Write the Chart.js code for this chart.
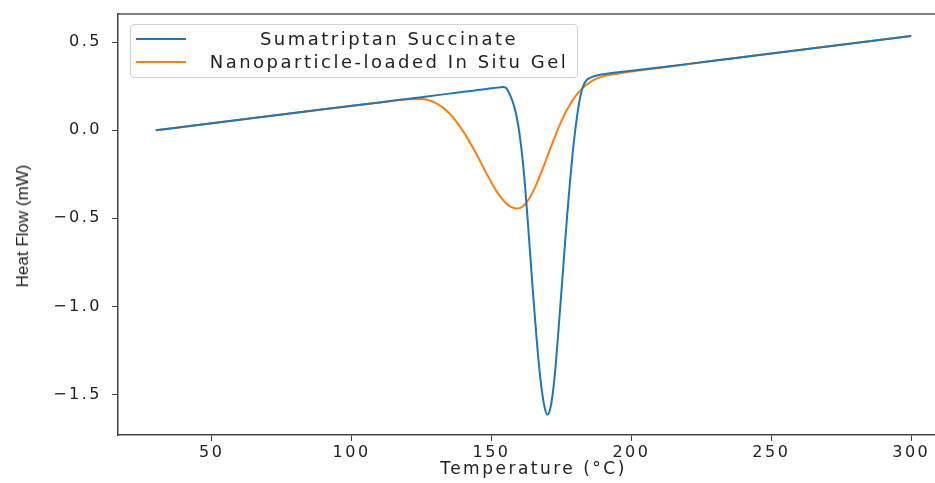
<!DOCTYPE html>
<html>
<head>
<meta charset="utf-8">
<script src="https://cdn.jsdelivr.net/npm/chart.js@4.4.1/dist/chart.umd.min.js"></script>
<style>
  html, body { margin: 0; padding: 0; background: #fff; overflow: hidden; }
  #wrap { position: relative; width: 960px; height: 483px; }
  #legend {
    position: absolute; left: 130px; top: 24px; width: 446px; height: 52px;
    border: 1px solid #d4d4d4; border-radius: 4px; background: rgba(255,255,255,0.85);
    font-family: "DejaVu Sans", sans-serif; font-size: 18px; letter-spacing: 2.5px; color: #222;
  }
  .row { position: absolute; left: 0; width: 100%; height: 23px; }
  .swatch { position: absolute; left: 5px; width: 50px; height: 2px; top: 11px; }
  .label { position: absolute; left: 70px; width: 376px; text-align: center; line-height: 23px; white-space: nowrap; }
  #ytitle {
    position: absolute; left: 23px; top: 226px; transform: translate(-50%, -50%) rotate(-90deg);
    font-family: "Liberation Sans", sans-serif; font-size: 17px; color: #222; white-space: nowrap;
  }
</style>
</head>
<body>
<div id="wrap">
  <canvas id="dsc" width="960" height="483"></canvas>
  <div id="legend"></div>
  <div id="ytitle">Heat Flow (mW)</div>
</div>
<script>
// temperature points (°C) and heat flow (mW)
const temps = [30, 50, 70, 90, 110, 120, 125, 130, 135, 140, 144, 146, 148, 150, 152, 154,
  155, 156, 157, 158, 159, 160, 161, 162, 163, 164, 165, 166, 167, 168, 169,
  170, 171, 172, 173, 174, 175, 176, 177, 178, 179, 180, 181, 182, 183, 184,
  186, 188, 190, 193, 196, 200, 210, 230, 250, 270, 300];

const sumatriptan = [0.000, 0.040, 0.079, 0.119, 0.158, 0.178, 0.188, 0.198, 0.208, 0.218, 0.226, 0.230, 0.234, 0.238, 0.242, 0.245,
  0.243, 0.222, 0.185, 0.140, 0.075, -0.020, -0.150, -0.320, -0.525, -0.745, -0.960, -1.160, -1.340, -1.480, -1.575,
  -1.615, -1.580, -1.480, -1.320, -1.120, -0.910, -0.700, -0.490, -0.300, -0.130, 0.010, 0.125, 0.210, 0.260, 0.285,
  0.303, 0.312, 0.318, 0.325, 0.331, 0.338, 0.356, 0.396, 0.436, 0.475, 0.535];

const insituGel = [0.000, 0.040, 0.079, 0.119, 0.158, 0.176, 0.178, 0.155, 0.095, -0.009, -0.118, -0.178, -0.239, -0.298, -0.351, -0.394,
  -0.411, -0.425, -0.435, -0.441, -0.444, -0.442, -0.434, -0.419, -0.399, -0.373, -0.343, -0.309, -0.271, -0.231, -0.190,
  -0.147, -0.105, -0.063, -0.023, 0.016, 0.052, 0.086, 0.117, 0.145, 0.171, 0.193, 0.213, 0.231, 0.246, 0.259,
  0.280, 0.296, 0.307, 0.316, 0.324, 0.333, 0.354, 0.396, 0.436, 0.475, 0.535];

const seriesNames = ['Sumatriptan Succinate', 'Nanoparticle-loaded In Situ Gel'];
const seriesColors = ['#1f77b4', '#ff7f0e'];

const xTicks = [50, 100, 150, 200, 250, 300];
const yTicks = [-1.5, -1.0, -0.5, 0.0, 0.5];

const toPoints = vals => temps.map((t, i) => ({ x: t, y: vals[i] }));

// matplotlib-ish wide text
const spacing = {
  id: 'spacing',
  beforeUpdate(chart) { chart.ctx.letterSpacing = '2.5px'; },
  beforeDraw(chart) { chart.ctx.letterSpacing = '2.5px'; }
};

// top spine
const frame = {
  id: 'frame',
  afterDraw(chart) {
    const { ctx, chartArea } = chart;
    ctx.save();
    ctx.strokeStyle = '#555';
    ctx.lineWidth = 1.5;
    ctx.beginPath();
    ctx.moveTo(chartArea.left, chartArea.top);
    ctx.lineTo(chartArea.right, chartArea.top);
    ctx.stroke();
    ctx.restore();
  }
};

const tickFont = { family: 'DejaVu Sans', size: 16 };

new Chart(document.getElementById('dsc').getContext('2d'), {
  type: 'line',
  data: {
    datasets: [sumatriptan, insituGel].map((vals, i) => ({
      label: seriesNames[i],
      data: toPoints(vals),
      borderColor: seriesColors[i],
      backgroundColor: seriesColors[i],
      borderWidth: 2,
      pointRadius: 0,
      cubicInterpolationMode: 'monotone',
      fill: false
    }))
  },
  options: {
    responsive: false,
    animation: false,
    layout: { padding: { top: 14, right: 11, left: 0, bottom: 0 } },
    plugins: {
      legend: { display: false },
      tooltip: { enabled: false }
    },
    scales: {
      x: {
        type: 'linear',
        min: 16.5,
        max: 313.5,
        afterBuildTicks: s => { s.ticks = xTicks.map(v => ({ value: v })); },
        afterFit: s => { s.height = 48; s.paddingLeft = 0; s.paddingRight = 0; },
        grid: { drawOnChartArea: false, tickLength: 6, color: '#444' },
        border: { display: true, color: '#444', width: 1.5 },
        ticks: { font: tickFont, color: '#222', padding: 2, maxRotation: 0,
          callback: v => String(v) },
        title: { display: true, text: 'Temperature (°C)', color: '#222',
          font: { family: 'DejaVu Sans', size: 17 }, padding: { top: 0, bottom: 3 } }
      },
      y: {
        min: -1.73,
        max: 0.66,
        afterBuildTicks: s => { s.ticks = yTicks.map(v => ({ value: v })); },
        afterFit: s => { s.width = 118; s.paddingTop = 0; s.paddingBottom = 0; },
        grid: { drawOnChartArea: false, tickLength: 6, color: '#444' },
        border: { display: true, color: '#444', width: 1.5 },
        ticks: { font: tickFont, color: '#222', padding: 10,
          callback: v => (v < 0 ? '\u2212' : '') + Math.abs(v).toFixed(1) }
      }
    }
  },
  plugins: [spacing, frame]
});

// legend box drawn as html, from the same series names/colours
const legend = document.getElementById('legend');
seriesNames.forEach((name, i) => {
  const row = document.createElement('div');
  row.className = 'row';
  row.style.top = (2 + i * 23) + 'px';
  row.innerHTML = '<div class="swatch" style="background:' + seriesColors[i] + '"></div>' +
    '<span class="label">' + name + '</span>';
  legend.appendChild(row);
});
</script>
</body>
</html>
